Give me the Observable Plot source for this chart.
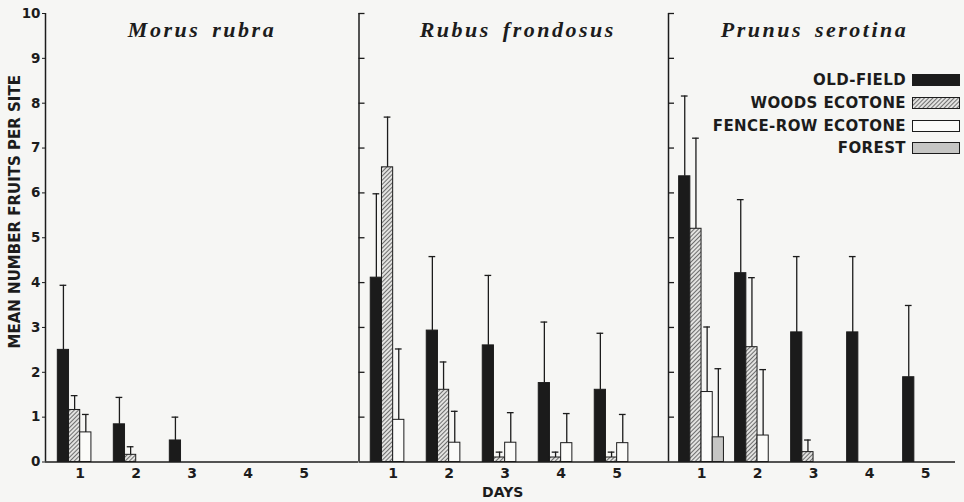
<!DOCTYPE html>
<html><head><meta charset="utf-8">
<script src="https://cdn.jsdelivr.net/npm/d3@7"></script>
<script src="https://cdn.jsdelivr.net/npm/@observablehq/plot@0.6"></script>
<style>
html,body{margin:0;padding:0;background:#f6f6f4;}
#wrap{position:relative;width:964px;height:502px;overflow:hidden;background:#f6f6f4;font-family:"DejaVu Sans",sans-serif;color:#1c1c1c;}
#panels{display:flex;position:absolute;left:0;top:0;}
#panels svg{overflow:visible;background:transparent;}
#legend{position:absolute;left:600px;top:69px;width:360px;}
#legend .row{display:flex;justify-content:flex-end;align-items:center;height:22.7px;}
#legend .row span{font-weight:bold;font-size:15px;letter-spacing:0.4px;margin-right:6px;white-space:nowrap;}
#legend .row svg{display:block;}
</style></head><body>
<svg width="0" height="0" style="position:absolute">
  <defs>
    <pattern id="hatch" patternUnits="userSpaceOnUse" width="3" height="3" patternTransform="rotate(45)">
      <rect width="3" height="3" fill="#e2e2e0"/>
      <line x1="0.5" y1="0" x2="0.5" y2="3" stroke="#6e6e6e" stroke-width="1"/>
    </pattern>
  </defs>
</svg>
<div id="wrap"><div id="panels"></div><div id="legend"></div></div>
<script>
// ---- data ----
const speciesNames = ["Morus rubra", "Rubus frondosus", "Prunus serotina"];
const habitats = ["OLD-FIELD", "WOODS ECOTONE", "FENCE-ROW ECOTONE", "FOREST"];
const days = [1, 2, 3, 4, 5];
const yTicks = [0, 1, 2, 3, 4, 5, 6, 7, 8, 9, 10];

// rows = habitat (old-field, woods, fence-row, forest), columns = day 1..5
const morusMean = [
  [2.50, 0.84, 0.48, 0, 0],
  [1.16, 0.16, 0, 0, 0],
  [0.66, 0, 0, 0, 0],
  [0, 0, 0, 0, 0]
];
const morusErrTop = [
  [3.94, 1.44, 1.00, null, null],
  [1.48, 0.34, null, null, null],
  [1.06, null, null, null, null],
  [null, null, null, null, null]
];
const rubusMean = [
  [4.11, 2.93, 2.60, 1.76, 1.61],
  [6.57, 1.61, 0.10, 0.10, 0.10],
  [0.94, 0.43, 0.43, 0.42, 0.42],
  [0, 0, 0, 0, 0]
];
const rubusErrTop = [
  [5.98, 4.58, 4.16, 3.12, 2.87],
  [7.69, 2.23, 0.22, 0.22, 0.22],
  [2.52, 1.13, 1.10, 1.08, 1.06],
  [null, null, null, null, null]
];
const prunusMean = [
  [6.37, 4.21, 2.89, 2.89, 1.89],
  [5.20, 2.56, 0.22, 0, 0],
  [1.56, 0.59, 0, 0, 0],
  [0.55, 0, 0, 0, 0]
];
const prunusErrTop = [
  [8.16, 5.85, 4.58, 4.58, 3.49],
  [7.22, 4.11, 0.49, null, null],
  [3.01, 2.06, null, null, null],
  [2.08, null, null, null, null]
];

// ---- styling / layout ----
const habitatFills = ["#1b1b1b", "url(#hatch)", "#fbfbf9", "#c6c6c4"];
const ink = "#1c1c1c";
const means = [morusMean, rubusMean, prunusMean];
const errTops = [morusErrTop, rubusErrTop, prunusErrTop];
const panelWidths = [358, 310, 296];
const marginLefts = [45, 0.5, 0];
const marginRights = [0, 0, 9];
const xStarts = [0.38, 0.39, 0.41];
const titleDx = [0, 4, 2.5];
const dayPx = 56;
const barW = 0.2;

const rows = [];
speciesNames.forEach((s, i) => {
  habitats.forEach((h, k) => {
    days.forEach((d, j) => {
      rows.push({species: s, si: i, habitat: h, k, day: d, mean: means[i][k][j], top: errTops[i][k][j]});
    });
  });
});
const left = d => d.day - 0.4 + barW * d.k;
const center = d => left(d) + barW / 2;

function panel(s, i) {
  const w = panelWidths[i], ml = marginLefts[i], mr = marginRights[i];
  const x0 = xStarts[i];
  const x1 = x0 + (w - ml - mr) / dayPx;
  const data = rows.filter(d => d.si === i);
  const marks = [];
  habitats.forEach((h, k) => {
    marks.push(Plot.rect(data.filter(d => d.k === k && d.mean > 0), {
      x1: left, x2: d => left(d) + barW, y1: () => 0, y2: "mean",
      fill: habitatFills[k], stroke: ink, strokeWidth: 1
    }));
  });
  const eb = data.filter(d => d.top != null);
  marks.push(Plot.ruleX(eb, {x: center, y1: "mean", y2: "top", stroke: ink, strokeWidth: 1.3}));
  marks.push(Plot.ruleY(eb, {y: "top", x1: d => center(d) - 0.06, x2: d => center(d) + 0.06, stroke: ink, strokeWidth: 1.3}));
  marks.push(Plot.ruleY([0], {stroke: ink, strokeWidth: 1.5}));
  marks.push(Plot.ruleX([x0], {y1: 0, y2: 10, stroke: ink, strokeWidth: 1.5}));
  if (i === 0) {
    marks.push(Plot.axisY({ticks: yTicks, tickSize: 3, tickPadding: 2, fontSize: 13.5, label: null, stroke: ink}));
    marks.push(Plot.text(["MEAN NUMBER FRUITS PER SITE"], {frameAnchor: "left", rotate: -90, textAnchor: "middle", lineAnchor: "middle", dx: -30, dy: -26, fontSize: 15, fontWeight: "bold", fill: ink}));
  } else {
    marks.push(Plot.ruleY(yTicks.slice(1), {x1: () => x0, x2: () => x0 + 6 / dayPx, stroke: ink, strokeWidth: 1.3}));
  }
  marks.push(Plot.axisX({ticks: days, tickSize: 0, tickPadding: 6, fontSize: 14, label: null, tickFormat: d => String(d)}));
  if (i === 1) {
    marks.push(Plot.text(["DAYS"], {frameAnchor: "bottom", lineAnchor: "middle", dy: 31, dx: -11, fontSize: 14, fontWeight: "bold", fill: ink}));
  }
  marks.push(Plot.text([s], {frameAnchor: "top", lineAnchor: "middle", dy: 16.5, dx: titleDx[i], fontFamily: "Liberation Serif", fontStyle: "italic", fontWeight: "bold", fontSize: 22, fill: ink}));

  const svg = Plot.plot({
    width: w, height: 502,
    marginLeft: ml, marginRight: mr, marginTop: 13, marginBottom: 40.5,
    x: {type: "linear", domain: [x0, x1]},
    y: {domain: [0, 10], axis: i === 0 ? undefined : null},
    style: {fontFamily: "DejaVu Sans, sans-serif", fontWeight: "bold", color: ink, background: "transparent", overflow: "visible"},
    marks
  });
  d3.select(svg).selectAll("text")
    .filter(function() { return speciesNames.includes(this.textContent); })
    .style("letter-spacing", "2.5px").style("word-spacing", "4px");
  return svg;
}

const holder = document.getElementById("panels");
speciesNames.forEach((s, i) => holder.appendChild(panel(s, i)));

// legend
const legend = d3.select("#legend");
habitats.forEach((h, k) => {
  const row = legend.append("div").attr("class", "row");
  row.append("span").text(h);
  const sw = row.append("svg").attr("width", 48).attr("height", 12);
  sw.append("rect").attr("x", 0.5).attr("y", 0.5).attr("width", 47).attr("height", 11)
    .attr("fill", habitatFills[k]).attr("stroke", ink).attr("stroke-width", 1);
});
</script>
</body></html>
